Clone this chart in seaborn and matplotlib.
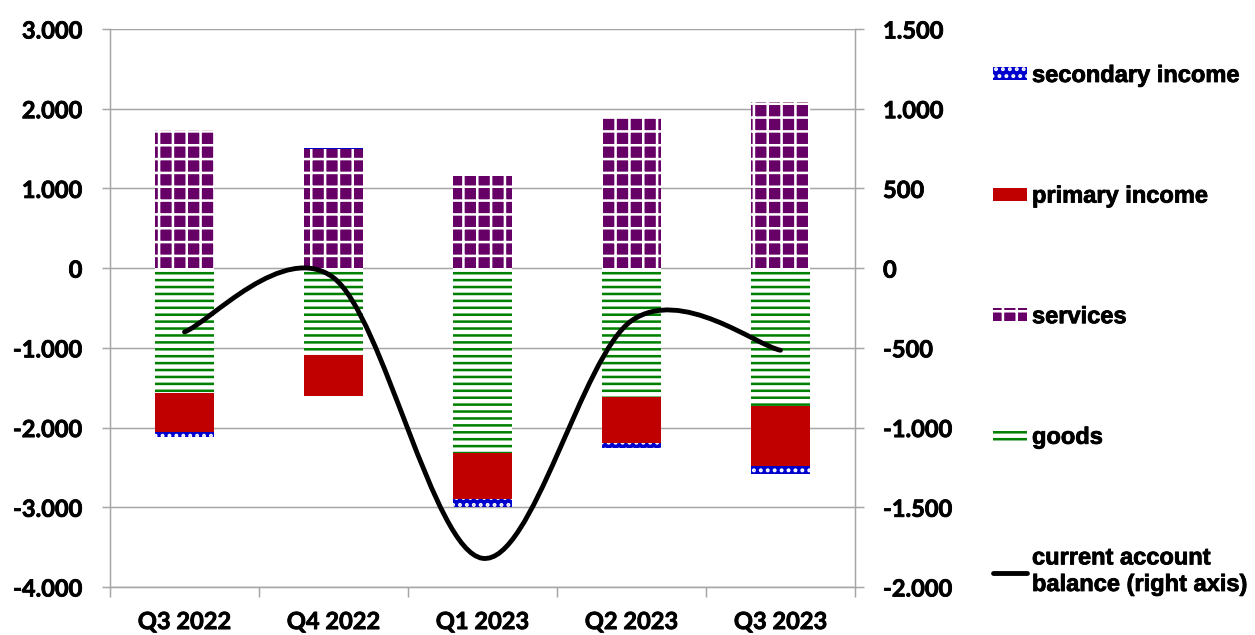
import matplotlib
matplotlib.use("Agg")
import matplotlib.pyplot as plt
import matplotlib.patches as mpatches
from matplotlib.lines import Line2D
from matplotlib.path import Path
import matplotlib.patheffects as pe
import numpy as np
import pandas as pd
import seaborn as sns

quarters = ["Q3 2022", "Q4 2022", "Q1 2023", "Q2 2023", "Q3 2023"]
goods = [-1570, -1090, -2320, -1620, -1730]
services = [1730, 1490, 1155, 1895, 2083]
primary_income = [-490, -515, -580, -575, -755]
secondary_income = [-60, 20, -100, -65, -100]
current_account = [-400, -60, -1820, -330, -515]

left_ticks = [-4000, -3000, -2000, -1000, 0, 1000, 2000, 3000]
right_ticks = [-2000, -1500, -1000, -500, 0, 500, 1000, 1500]

DPI = 83
GRAY = "#a6a6a6"
TICK_FONT = "Lato"
LEG_FONT = "Liberation Sans"

sns.set_theme(style="white")
plt.rcParams["font.family"] = [TICK_FONT, "DejaVu Sans"]
plt.rcParams.update({
    "text.color": "black",
    "xtick.color": "black",
    "ytick.color": "black",
    "xtick.labelcolor": "black",
    "ytick.labelcolor": "black",
    "hatch.linewidth": 2.2,
})
heavy = [pe.withStroke(linewidth=0.7, foreground="black")]


def fmt(v):
    return f"{v:,.0f}".replace(",", ".")


fig = plt.figure(figsize=(1255 / DPI, 635 / DPI), dpi=DPI)
ax = fig.add_axes([110 / 1255, 48 / 635, 745 / 1255, 558 / 635])

series = [
    ("goods", goods, "white", "#008000", "--"),
    ("services", services, "#660066", "white", "+"),
    ("primary income", primary_income, "#c00000", "#c00000", None),
    ("secondary income", secondary_income, "#0000cc", "white", ".."),
]

pos_base = np.zeros(len(quarters))
neg_base = np.zeros(len(quarters))
handles = {}
for name, vals, fc, ec, hatch in series:
    vals = np.asarray(vals, dtype=float)
    bottom = np.where(vals >= 0, pos_base, neg_base)
    df = pd.DataFrame({"quarter": quarters, "value": vals})
    sns.barplot(data=df, x="quarter", y="value", order=quarters, ax=ax,
                width=0.4, saturation=1, errorbar=None, bottom=bottom,
                color=fc, edgecolor=ec, hatch=hatch, linewidth=0, zorder=2)
    handles[name] = mpatches.Patch(facecolor=fc, edgecolor=ec, hatch=hatch, linewidth=0)
    pos_base = np.where(vals >= 0, pos_base + vals, pos_base)
    neg_base = np.where(vals < 0, neg_base + vals, neg_base)

ax.set_xlim(-0.5, len(quarters) - 0.5)
ax.set_ylim(-4000, 3000)
ax.set_yticks(left_ticks)
ax.set_yticklabels([fmt(v) for v in left_ticks])
ax.set_xlabel("")
ax.set_ylabel("")
ax.yaxis.grid(True, color=GRAY, linewidth=1.3, zorder=0)
ax.xaxis.grid(False)
ax.set_axisbelow(True)
ax.set_xticks(np.arange(-0.5, len(quarters)), minor=True)
ax.tick_params(axis="x", which="major", length=0, pad=20, labelsize=20.5)
ax.tick_params(axis="x", which="minor", length=8.7, width=1.3, color=GRAY, direction="out", bottom=True)
ax.tick_params(axis="y", length=6.9, width=1.3, color=GRAY, direction="out", left=True, pad=17, labelsize=20.5)
for lab in ax.get_xticklabels() + ax.get_yticklabels():
    lab.set_fontweight("bold")
    lab.set_color("black")
    lab.set_path_effects(heavy)
for s in ["top", "right"]:
    ax.spines[s].set_visible(False)
for s in ["left", "bottom"]:
    ax.spines[s].set_color(GRAY)
    ax.spines[s].set_linewidth(1.3)

ax2 = ax.twinx()
ax2.set_ylim(-2000, 1500)
ax2.set_yticks(right_ticks)
ax2.set_yticklabels([fmt(v) for v in right_ticks])
ax2.grid(False)
ax2.tick_params(axis="y", length=7.8, width=1.3, color=GRAY, direction="out", right=True, pad=16.5, labelsize=20.5)
for lab in ax2.get_yticklabels():
    lab.set_fontweight("bold")
    lab.set_color("black")
    lab.set_path_effects(heavy)
for s in ["top", "left", "bottom"]:
    ax2.spines[s].set_visible(False)
ax2.spines["right"].set_color(GRAY)
ax2.spines["right"].set_linewidth(1.3)

# smoothed line (Catmull-Rom style bezier, like Excel's smoothed line)
xs = np.arange(len(quarters), dtype=float)
ys = np.asarray(current_account, dtype=float)
pts = np.column_stack([xs, ys])
verts = [pts[0]]
codes = [Path.MOVETO]
n = len(pts)
for i in range(n - 1):
    p_prev = pts[max(i - 1, 0)]
    p_next2 = pts[min(i + 2, n - 1)]
    c1 = pts[i] + (pts[i + 1] - p_prev) / 6
    c2 = pts[i + 1] - (p_next2 - pts[i]) / 6
    verts += [c1, c2, pts[i + 1]]
    codes += [Path.CURVE4] * 3
curve = mpatches.PathPatch(Path(verts, codes), facecolor="none", edgecolor="black",
                           linewidth=4.2, capstyle="round", zorder=5)
ax2.add_patch(curve)

leg_handles = [handles["secondary income"], handles["primary income"], handles["services"],
               handles["goods"], Line2D([], [], color="black", linewidth=4.2)]
leg_labels = ["secondary income", "primary income", "services", "goods",
              "current account\nbalance (right axis)"]
leg = fig.legend(leg_handles, leg_labels, loc="upper left", bbox_to_anchor=(993 / 1255, 1 - 64 / 635),
                 frameon=False, handlelength=1.45, handleheight=0.45, handletextpad=0.2,
                 labelspacing=4.13, borderpad=0, borderaxespad=0,
                 prop={"family": LEG_FONT, "weight": "bold", "size": 20.5})
for t in leg.get_texts():
    t.set_color("black")
    t.set_path_effects(heavy)

fig.savefig("out.png", dpi=DPI)
